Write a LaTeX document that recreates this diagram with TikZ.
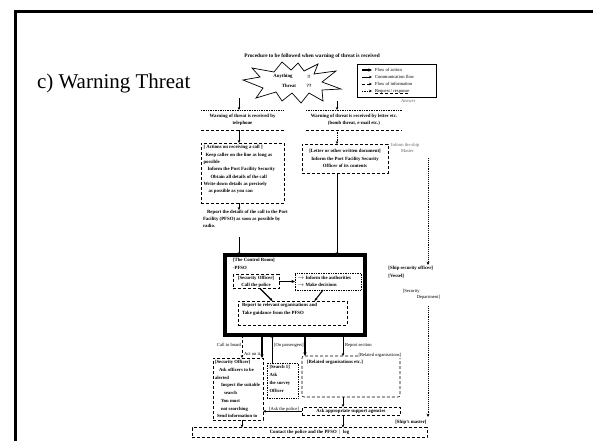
\documentclass[tikz,border=0pt]{standalone}
\usepackage{fontspec}
\setmainfont{Liberation Serif}
\usetikzlibrary{arrows.meta,calc}
\begin{document}
\begin{tikzpicture}[x=1pt,y=-1pt,
  every node/.style={inner sep=0pt,outer sep=0pt},
  txt/.style={font=\bfseries\fontsize{4.8}{7.3}\selectfont,align=left},
  txtc/.style={font=\bfseries\fontsize{4.8}{7.3}\selectfont,align=center},
  lab/.style={font=\fontsize{4.6}{6.2}\selectfont,align=left},
  note/.style={font=\fontsize{4.6}{6.2}\selectfont,align=left,text=black!60},
  dashbox/.style={draw,densely dashed,line width=0.55pt},
  dotbox/.style={draw,densely dotted,line width=0.7pt},
  tipS/.style={-{Stealth[length=3pt,width=2.6pt]}},
  flow/.style={line width=0.6pt,tipS},
  dflow/.style={line width=0.7pt,densely dotted,tipS},
  bigdots/.style={line width=0.9pt,densely dotted,-{Stealth[length=3.4pt,width=3pt]}},
  dashflow/.style={line width=0.5pt,densely dashed,tipS},
  heavy/.style={line width=1.4pt,-{Stealth[length=3.6pt,width=3.2pt]}},
  rule/.style={line width=0.55pt,densely dashed},
  dotrule/.style={line width=0.7pt,densely dotted},
]
\useasboundingbox (0,0) rectangle (593,441);
\fill[white] (0,0) rectangle (593,441);

% slide frame (top and left edges)
\draw[line width=3pt] (15,441) -- (15,11.5) -- (593,11.5);

% heading and chart title
\node[anchor=west,font=\fontsize{21}{24}\selectfont] (heading) at (37,83) {c) Warning Threat};
\node[font=\bfseries\fontsize{5.3}{6}\selectfont] (title) at (312,56)
  {Procedure to be followed when warning of threat is received};

% legend
\node[draw,line width=0.9pt,minimum width=79,minimum height=33,anchor=north west] (legend) at (357,64) {};
\node[lab,anchor=west] (lg1) at (375,70) {Flow of action};
\node[lab,anchor=west] (lg2) at (375,77) {Communication flow};
\node[lab,anchor=west] (lg3) at (375,84) {Flow of information};
\node[lab,anchor=west] (lg4) at (375,91) {Request / response};
\draw[heavy] ($(lg1.west)+(-13,0)$) -- ($(lg1.west)+(-3,0)$);
\draw[flow] ($(lg2.west)+(-13,0)$) -- ($(lg2.west)+(-3,0)$);
\draw[dashflow] ($(lg3.west)+(-13,0)$) -- ($(lg3.west)+(-3,0)$);
\draw[dflow] ($(lg4.west)+(-13,0)$) -- ($(lg4.west)+(-3,0)$);
\draw[rule] ($(lg4.south west)+(0,0.6)$) -- ($(lg4.south east)+(0,0.6)$);
\node[note,anchor=west] (ans) at (401,101.5) {Answer};

% threat burst
\draw[line width=0.7pt] (243,80) -- (260,77) -- (252,68) -- (274,72) -- (282,62) -- (291,70)
  -- (298,63) -- (304,71) -- (318,64) -- (314,74) -- (336,71) -- (322,82) -- (341,89)
  -- (322,90) -- (323,101) -- (309,93) -- (301,103) -- (292,93) -- (282,101) -- (276,92)
  -- (256,98) -- (263,88) -- cycle;
\node[txt] (any) at (283,76) {Anything};
\node[txt] (thr) at (289,86) {Threat};
\node[txt] (ex1) at (309,77) {!!};
\node[txt] (ex2) at (309,86) {??};
\coordinate (sL) at (239,98);
\coordinate (sR) at (337,101);

% left column: telephone warning
\node[txtc,minimum width=83,minimum height=20,anchor=north west] (l1) at (201,110)
  {Warning of threat is received by\\telephone};
\draw[dotrule] (l1.north west) -- (l1.north east);
\draw[rule] (l1.south west) -- (l1.south east);
\draw[flow] (sL) -- (sL |- l1.north);

\node[dashbox,minimum width=83,minimum height=60,anchor=north west] (l2) at (201,143) {};
\node[txt,anchor=north west] (l2t) at (203.5,145.5)
  {[ Actions on receiving a call ]\\
   \hspace{2pt}Keep caller on the line as long as\\
   possible\\
   \hspace{4pt}Inform the Port Facility Security\\
   \hspace{7pt}Obtain all details of the call\\
   Write down details as precisely\\
   \hspace{5pt}as possible as you can};
\draw[flow] (l1.south -| sL) -- (l2.north -| sL);

\node[txt,anchor=north west] (rep) at (203,210)
  {\hspace{4pt}Report the details of the call to the Port\\
   Facility (PFSO) as soon as possible by\\
   radio.};
\draw[flow] (l2.south -| sL) -- (rep.north -| sL);

% right column: written warning
\node[txtc,minimum width=96,minimum height=20,anchor=north west] (r1) at (306,110)
  {Warning of threat is received by letter etc.\\(bomb threat, e-mail etc.)};
\draw[dotrule] (r1.north west) -- (r1.north east);
\draw[rule] (r1.south west) -- (r1.south east);
\draw[flow] (sR) -- (sR |- r1.north);

\node[dashbox,minimum width=86,minimum height=29,anchor=north west] (r2) at (302,144) {};
\node[txtc] (r2t) at (r2.center)
  {[Letter or other written document]\\
   Inform the Port Facility Security\\
   Officer of its contents};
\draw[dflow] (r1.south -| sR) -- (r2.north -| sR);
\node[note,anchor=north west] (rnote) at (391,143.5) {Inform the ship\\\hspace{10pt}Master};

% control room
\node[draw,line width=3.2pt,minimum width=140,minimum height=80,anchor=north west] (cr) at (225,255) {};
\coordinate (rL) at (239,237);
\draw[line width=0.8pt,tipS] (rL) -- (rL |- cr.north);
\draw[line width=0.8pt,tipS] (r2.south -| sR) -- (cr.north -| sR);

\node[txt,anchor=north west] (crt) at (233,258.5) {[The Control Room]\\{}-PFSO};
\node[dashbox,minimum width=46,minimum height=14,anchor=north west] (cr1) at (233,274.5) {};
\node[txtc] (cr1t) at (cr1.center) {[Security Officer]\\Call the police};
\node[dotbox,minimum width=66,minimum height=17,anchor=north west] (cr2) at (295,273) {};
\node[txt,anchor=west] (cr2t) at ($(cr2.west)+(2.5,0)$)
  {$\rightarrow$ Inform the authorities\\$\rightarrow$ Make decisions};
\draw[heavy] (cr1.east) -- (cr1.east -| cr2.west);
\node[dashbox,minimum width=109,minimum height=24,anchor=north west] (cr3) at (238,301) {};
\node[txt,anchor=north west] (cr3t) at (242,303.5)
  {Report to relevant organisations and\\Take guidance from the PFSO};
\draw[line width=1.1pt,tipS] ($(cr1.south)+(4,0)$) -- ($(cr3.north)+(-20,0)$);
\draw[line width=1.1pt,tipS] ($(cr2.south)+(-5,0)$) -- ($(cr3.north)+(22,0)$);

% ship-side chain on the right
\coordinate (rt) at (428,158);
\coordinate (rb) at (428,265);
\draw[bigdots] (rt) -- (rb);
\node[txt,anchor=north east] (sso) at (433,266.5) {[Ship security officer]\\{}[Vessel]\hspace{16pt}};
\node[lab,anchor=north east] (secd) at (440,289) {[Security\hspace{12pt}\\\hspace{14pt}Department]};
\coordinate (rt2) at (428,306);
\coordinate (rb2) at (428,417);
\draw[bigdots] (rt2) -- (rb2);
\node[txt,anchor=east] (master) at (426.5,422) {[Ship's master]};

% lower actions
\coordinate (c1) at (242,0);
\coordinate (c2) at (262,0);
\coordinate (c3) at (272,0);
\coordinate (c4) at (305,0);
\coordinate (c5) at (343,0);

\node[dashbox,minimum width=50,minimum height=62,anchor=north west] (lb) at (213,358) {};
\node[txt,anchor=north west,font=\bfseries\fontsize{4.7}{7.7}\selectfont] (lbt) at (215,360.5)
  {[Security Officer]\\
   \hspace{4pt}Ask officers to be\\
   alerted\\
   \hspace{6pt}Inspect the suitable\\
   \hspace{9pt}search\\
   \hspace{6pt}You must\\
   \hspace{6pt}not searching\\
   \hspace{2pt}Send information to};

\node[dotbox,minimum width=31,minimum height=35,anchor=north west] (mb) at (267,363) {};
\node[txt,anchor=north west,font=\bfseries\fontsize{4.7}{8}\selectfont] (mbt) at (269.5,365.5)
  {[Search 1]\\Ask\\the survey\\Officer};

\node[dashbox,rounded corners=2pt,minimum width=98,minimum height=41,anchor=north west] (rbx) at (302,356) {};
\node[txt,anchor=north west] (rbxt) at (307,360) {[Related organisations etc.]};

\node[dashbox,txtc,minimum width=98,minimum height=8.5,anchor=north west] (ask) at (302,407)
  {Ask appropriate support agencies};

\node[dashbox,minimum width=235,minimum height=10,anchor=north west] (bot) at (192,427.5) {};
\node[txtc] (bott) at (bot.center) {Contact the police and the PFSO \,$|$\, log};

\draw[dashflow] (cr.south -| c1) -- (lb.north -| c1);
\draw[heavy] (cr.south -| c2) -- (lb.north -| c2);
\draw[flow] (mb.north -| c3) -- (cr.south -| c3);
\draw[heavy] (cr.south -| c4) -- (rbx.north -| c4);
\draw[flow] (cr.south -| c5) -- (rbx.north -| c5);
\draw[flow] (rbx.south -| c5) -- (ask.north -| c5);
\draw[flow] (ask.south -| c5) -- (bot.north -| c5);
\draw[flow] (lb.south -| c1) -- (bot.north -| c1);
\draw[flow] (ask.west) -- (ask.west -| lb.east);

\node[lab,anchor=east] (lbl1) at (241,345) {Call to board};
\node[lab,anchor=west] (lbl2) at (274,345) {[On passengers]};
\node[lab,anchor=west] (lbl3) at (345,345) {Report section};
\node[lab,anchor=west] (lbl4) at (244,353.5) {Act on it};
\node[lab,anchor=west,fill=white,inner sep=0.5pt] (lbl5) at (358,355.5) {[Related organisations]};
\node[lab,anchor=south] (lbl6) at (284,411) {[Ask the police]};
\end{tikzpicture}
\end{document}
